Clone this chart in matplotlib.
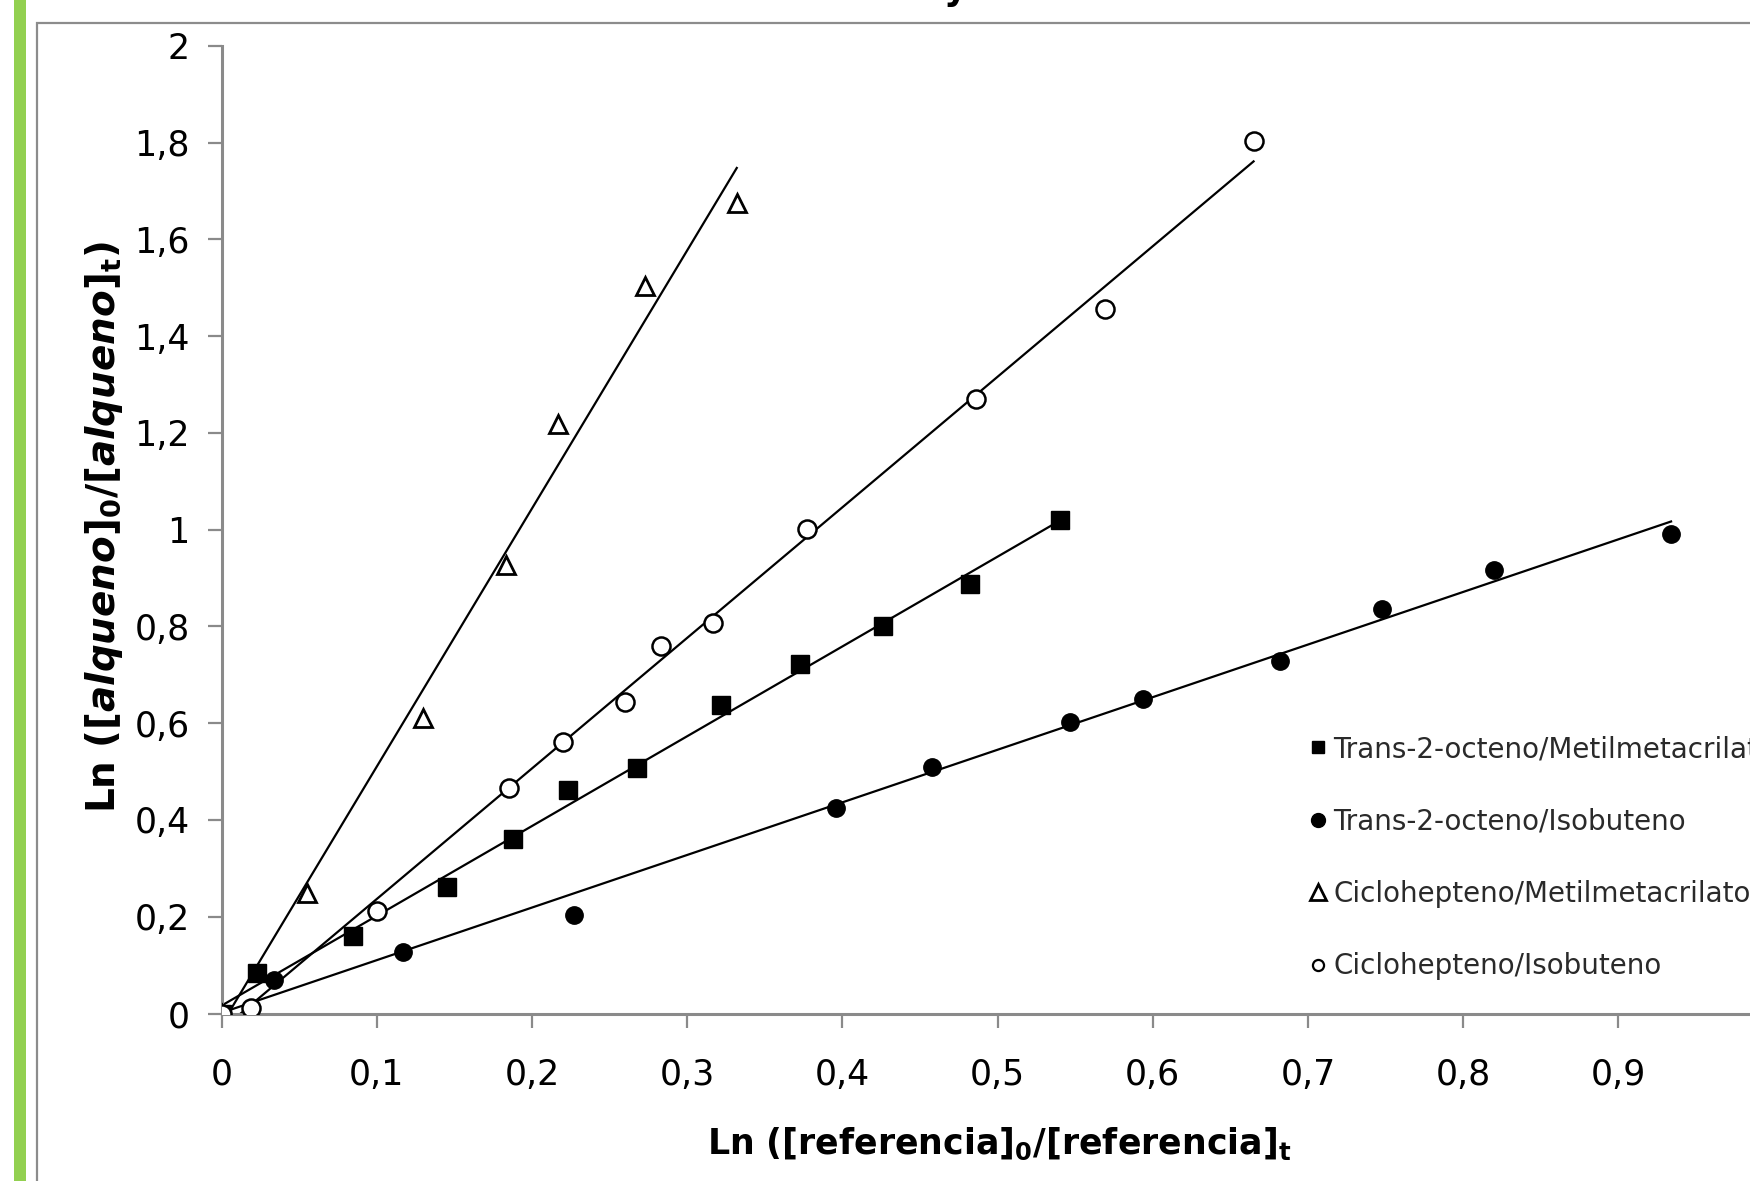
import numpy as np
import matplotlib
matplotlib.use("Agg")
import matplotlib.pyplot as plt
from matplotlib.lines import Line2D
from matplotlib.patches import Rectangle

plt.rcParams['font.family'] = ['DejaVu Sans']
plt.rcParams['mathtext.fontset'] = 'custom'
plt.rcParams['mathtext.rm'] = 'DejaVu Sans:bold'
plt.rcParams['mathtext.it'] = 'DejaVu Sans:italic:bold'
plt.rcParams['mathtext.bf'] = 'DejaVu Sans:bold'

# data
x_oct_mma = [0, 0.023, 0.085, 0.145, 0.188, 0.223, 0.268, 0.322, 0.373, 0.426, 0.482, 0.540]
y_oct_mma = [0, 0.083, 0.161, 0.261, 0.360, 0.461, 0.508, 0.637, 0.722, 0.800, 0.888, 1.020]

x_oct_iso = [0, 0.034, 0.117, 0.227, 0.396, 0.458, 0.547, 0.594, 0.682, 0.748, 0.820, 0.934]
y_oct_iso = [0, 0.069, 0.127, 0.203, 0.424, 0.510, 0.602, 0.650, 0.729, 0.837, 0.916, 0.992]

x_cic_mma = [0, 0.055, 0.130, 0.183, 0.217, 0.273, 0.332]
y_cic_mma = [0, 0.249, 0.611, 0.927, 1.218, 1.504, 1.675]

x_cic_iso = [0, 0.019, 0.100, 0.185, 0.220, 0.260, 0.283, 0.317, 0.377, 0.486, 0.569, 0.665]
y_cic_iso = [0, 0.012, 0.212, 0.466, 0.561, 0.644, 0.759, 0.807, 1.001, 1.271, 1.456, 1.804]

labels = ['Trans-2-octeno/Metilmetacrilato', 'Trans-2-octeno/Isobuteno',
          'Ciclohepteno/Metilmetacrilato', 'Ciclohepteno/Isobuteno']
xticks = [0, 0.1, 0.2, 0.3, 0.4, 0.5, 0.6, 0.7, 0.8, 0.9]
yticks = [0, 0.2, 0.4, 0.6, 0.8, 1, 1.2, 1.4, 1.6, 1.8, 2]

W, H = 1750, 1181
fig = plt.figure(figsize=(W / 100, H / 100), dpi=100)
ax = fig.add_axes([221.5 / W, (H - 1013.5) / H, 1552 / W, 967.7 / H])

series = [
    (x_oct_mma, y_oct_mma, dict(marker='s', ms=13.5, mfc='black', mec='black')),
    (x_oct_iso, y_oct_iso, dict(marker='o', ms=12.5, mfc='black', mec='black')),
    (x_cic_mma, y_cic_mma, dict(marker='^', ms=13, mfc='white', mec='black', mew=2)),
    (x_cic_iso, y_cic_iso, dict(marker='o', ms=13, mfc='white', mec='black', mew=1.8)),
]
for xs, ys, st in series:
    xs = np.array(xs)
    ys = np.array(ys)
    k, b = np.polyfit(xs, ys, 1)
    xl = np.array([xs.min(), xs.max()])
    ax.plot(xl, k * xl + b, color='black', lw=1.6, zorder=2)
    ax.plot(xs, ys, ls='none', zorder=3, **st)

ax.set_xlim(0, 1)
ax.set_ylim(0, 2)
ax.set_xticks(xticks)
ax.set_yticks(yticks)
fmt = lambda v: ('%g' % v).replace('.', ',')
ax.set_xticklabels([fmt(v) for v in xticks])
ax.set_yticklabels([fmt(v) for v in yticks])
ax.tick_params(axis='both', direction='out', length=10, width=1.6, color='#8a8a8a',
               labelsize=25, labelcolor='black')
ax.tick_params(axis='x', pad=22)
ax.tick_params(axis='y', pad=13)
for s in ['top', 'right']:
    ax.spines[s].set_visible(False)
for s in ['left', 'bottom']:
    ax.spines[s].set_color('#8a8a8a')
    ax.spines[s].set_linewidth(2.2)

ax.set_xlabel(r'Ln ([referencia]$_0$/[referencia]$_\mathrm{t}$', fontsize=25, fontweight='bold')
ax.xaxis.set_label_coords(0.501, -0.135)
ax.xaxis.label.set_va('center')
ax.set_ylabel(r'Ln ([$\mathit{alqueno}$]$_0$/[$\mathit{alqueno}$]$_\mathrm{t}$)',
              fontsize=28, fontweight='bold')
ax.yaxis.set_label_coords(-0.0757, 0.503)
ax.yaxis.label.set_va('center')

handles = [
    Line2D([], [], ls='none', marker='s', ms=8, mfc='black', mec='black'),
    Line2D([], [], ls='none', marker='o', ms=10, mfc='black', mec='black'),
    Line2D([], [], ls='none', marker='^', ms=12, mfc='white', mec='black', mew=2),
    Line2D([], [], ls='none', marker='o', ms=8, mfc='white', mec='black', mew=1.6),
]
leg = fig.legend(handles, labels, loc='upper left', bbox_to_anchor=(1310 / W, 1 - 735 / H),
                 frameon=False, fontsize=20, handlelength=0.6, handletextpad=0.25,
                 labelspacing=1.6, borderaxespad=0, borderpad=0)
for t in leg.get_texts():
    t.set_color('#2a2a2a')

# outer frame and green bar
fig.add_artist(Rectangle((37 / W, -0.1), 1.2, 1 - 23 / H + 0.1, transform=fig.transFigure,
                         fill=False, ec='#8c8c8c', lw=1.6))
fig.add_artist(Rectangle((14.5 / W, 0), 11 / W, 1, transform=fig.transFigure,
                         fc='#92d050', ec='none'))
fig.text(955 / W, 1.0, 'y', fontsize=26, fontweight='bold', ha='center', va='baseline')

fig.savefig('out.png', dpi=100)
